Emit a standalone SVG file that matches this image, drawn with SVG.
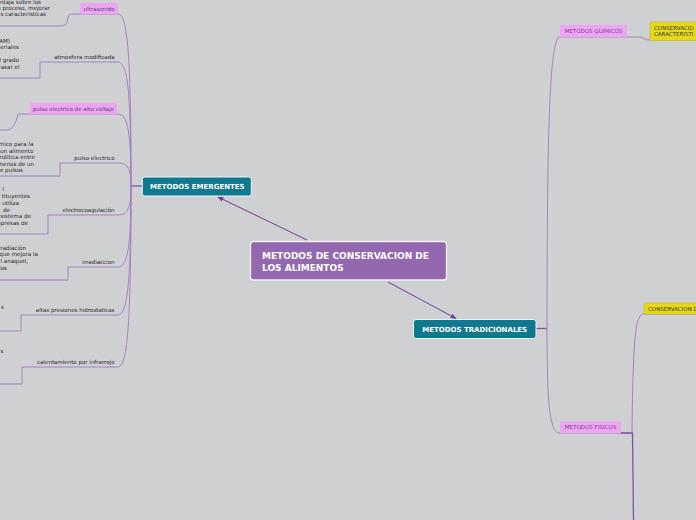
<svg xmlns="http://www.w3.org/2000/svg" width="696" height="520" viewBox="0 0 696 520">
<style>
.bg{fill:#cfd0d2}
.br{fill:none;stroke:#a282c2;stroke-width:1}
.dk{fill:none;stroke:#7e55a8;stroke-width:1.3}
.arr{fill:none;stroke:#6c3a9c;stroke-width:1;marker-end:url(#ah)}
.t{font-family:"DejaVu Sans",Verdana,sans-serif;font-size:5.5px;fill:#2a2a2a}
.s{font-family:"DejaVu Sans",Verdana,sans-serif;font-size:5.6px;fill:#2a2a2a;text-anchor:end}
.pk{fill:#eea5f1}
.pt{font-family:"DejaVu Sans",Verdana,sans-serif;font-size:5.5px;fill:#5e3f74;text-anchor:middle}
.qt{font-family:"DejaVu Sans",Verdana,sans-serif;font-size:5.5px;fill:#7a3f92;text-anchor:middle}
.yl{fill:#e4d81e;stroke:#c9bd18;stroke-width:0.6}
.yt{font-family:"DejaVu Sans",Verdana,sans-serif;font-size:5.5px;fill:#3b3a1c}
.teal{fill:#11798f;stroke:#eef3f5;stroke-width:1}
.bt{font-family:"DejaVu Sans",Verdana,sans-serif;font-weight:bold;fill:#fff}
</style>
<defs>
<marker id="ah" viewBox="0 0 10 10" refX="9" refY="5" markerWidth="6" markerHeight="6" orient="auto" markerUnits="userSpaceOnUse">
<path d="M0,1 L10,5 L0,9 Z" fill="#6c3a9c"/>
</marker>
</defs>
<rect class="bg" x="0" y="0" width="696" height="520"/>

<g id="connectors">
<path class="dk" d="M142,186 L131,186"/>
<path class="br" d="M131,186 C131,60 128,14 118,14"/>
<path class="br" d="M131,186 C131,95.5 128,62 118,62"/>
<path class="br" d="M131,186 C131,133.4 128,114 118,114"/>
<path class="br" d="M131,186 C131,169.2 128,163 118,163"/>
<path class="br" d="M131,186 C131,207.2 128,215 118,215"/>
<path class="br" d="M131,186 C131,245 128,267 118,267"/>
<path class="br" d="M131,186 C131,275.6 128,315 118,315"/>
<path class="br" d="M131,186 C131,317.6 128,367 118,367"/>
<path class="br" d="M0,26 L60,26 C66,26 67,24 68,18 C68.5,15 70,14 72,14 L118,14"/>
<path class="br" d="M0,78 L40,78 L40,62 L118,62"/>
<path class="br" d="M0,130 L8,130 C14,128 17,120 18,114 L118,114"/>
<path class="br" d="M0,176 L60,176 L60,163 L118,163"/>
<path class="br" d="M0,234 L48,234 L48,215 L118,215"/>
<path class="br" d="M0,280 L68,280 L68,267 L118,267"/>
<path class="br" d="M0,331 L21,331 L21,315 L118,315"/>
<path class="br" d="M0,384 L22,384 L22,367 L118,367"/>
<path class="dk" d="M536,328.5 L547,328.5"/>
<path class="br" d="M547,328.5 C547,120 550,37 560,37"/>
<path class="br" d="M547,328.5 C547,400 549,433 560,433"/>
<path class="br" d="M560,37 L638,37 C644,37 644,40 650,40 L696,40"/>
<path class="br" d="M560,433 L632,433"/>
<path class="br" d="M632,433 C633,330 636,314 644,314 L696,314"/>
<path class="dk" d="M621,433 L632.5,433 L633.5,520"/>
<path class="arr" d="M307,240 L218,197"/>
<path class="arr" d="M388,282 L456,318.5"/>
</g>

<g id="n-central">
<rect x="250.5" y="241.5" width="196" height="38.5" rx="3" fill="#9468ae" stroke="#f4f0f6" stroke-width="1.3"/>
<text class="bt" x="262" y="259.2" font-size="9">METODOS DE CONSERVACION DE</text>
<text class="bt" x="262" y="270.5" font-size="9">LOS ALIMENTOS</text>
</g>

<g id="n-emergentes">
<rect class="teal" x="142.3" y="177" width="109" height="19" rx="2.5"/>
<text class="bt" x="150" y="188.7" font-size="7">METODOS EMERGENTES</text>
</g>

<g id="n-tradicionales">
<rect class="teal" x="413.5" y="319.5" width="122.5" height="19" rx="2.5"/>
<text class="bt" x="474.7" y="331.8" font-size="7" text-anchor="middle">METODOS TRADICIONALES</text>
</g>

<g id="n-ultrasonido">
<rect class="pk" x="80" y="3" width="38" height="11" rx="1.5"/>
<text class="pt" x="99" y="10.5">ultrasonido</text>
<text class="s" x="41" y="3.8">ntaja sobre los</text>
<text class="s" x="50" y="10">n proceso, mejorar</text>
<text class="s" x="46" y="16.3">s caracteristicas</text>
</g>

<g id="n-atmosfera">
<text class="t" x="114.5" y="59" text-anchor="end">atmosfera modificada</text>
<text class="s" x="10" y="42.5">AM)</text>
<text class="s" x="19" y="48.5">eriales</text>
<text class="s" x="19" y="62">l grado</text>
<text class="s" x="19.5" y="68.5">rasar el</text>
</g>

<g id="n-pulso-alto">
<rect class="pk" x="30" y="103" width="87" height="11" rx="1.5"/>
<text class="pt" x="73.5" y="110.5">pulso electrico de alto voltaje</text>
</g>

<g id="n-pulso">
<text class="t" x="114.5" y="160" text-anchor="end">pulso electrico</text>
<text class="s" x="33.5" y="146">mico para la</text>
<text class="s" x="33.5" y="152.5">un alimento</text>
<text class="s" x="35" y="159">rolitica entre</text>
<text class="s" x="34" y="165.5">menos de un</text>
<text class="s" x="23" y="172">e pulsos</text>
</g>

<g id="n-electrocoagulacion">
<text class="t" x="114.5" y="212" text-anchor="end">electrocoagulación</text>
<text class="s" x="4" y="191">l</text>
<text class="s" x="30" y="198">tituyentes</text>
<text class="s" x="19" y="205">e utiliza</text>
<text class="s" x="10" y="211.5">de</text>
<text class="s" x="31" y="218">sistema de</text>
<text class="s" x="28" y="225">mpresas de</text>
</g>

<g id="n-irradiaccion">
<text class="t" x="114.5" y="263.5" text-anchor="end">irradiaccion</text>
<text class="s" x="26" y="249.5">rradiación</text>
<text class="s" x="38" y="256">que mejora la</text>
<text class="s" x="28" y="263">l anaquel,</text>
<text class="s" x="7" y="270">los</text>
</g>

<g id="n-altas">
<text class="t" x="114.5" y="312" text-anchor="end">altas presiones hidrostaticas</text>
<text class="s" x="4" y="309">s</text>
</g>

<g id="n-calentamiento">
<text class="t" x="114.5" y="364" text-anchor="end">calentamiento por infrarrojo</text>
<text class="s" x="3.5" y="353">s</text>
</g>

<g id="n-quimicos">
<rect class="pk" x="560" y="25" width="67" height="12" rx="1.5"/>
<text class="qt" x="593.5" y="33">METODOS QUIMICOS</text>
</g>

<g id="n-conservacion-1">
<rect class="yl" x="650" y="22" width="60" height="18.5" rx="1.5"/>
<text class="yt" x="654" y="30">CONSERVACIO</text>
<text class="yt" x="654" y="36">CARACTERISTI</text>
</g>

<g id="n-fisicos">
<rect class="pk" x="560" y="421.5" width="61" height="11.5" rx="1.5"/>
<text class="qt" x="590.5" y="429.2">METODOS FISICOS</text>
</g>

<g id="n-conservacion-2">
<rect class="yl" x="644" y="303" width="60" height="11" rx="1.5"/>
<text class="yt" x="648" y="310.8">CONSERVACION D</text>
</g>
</svg>
